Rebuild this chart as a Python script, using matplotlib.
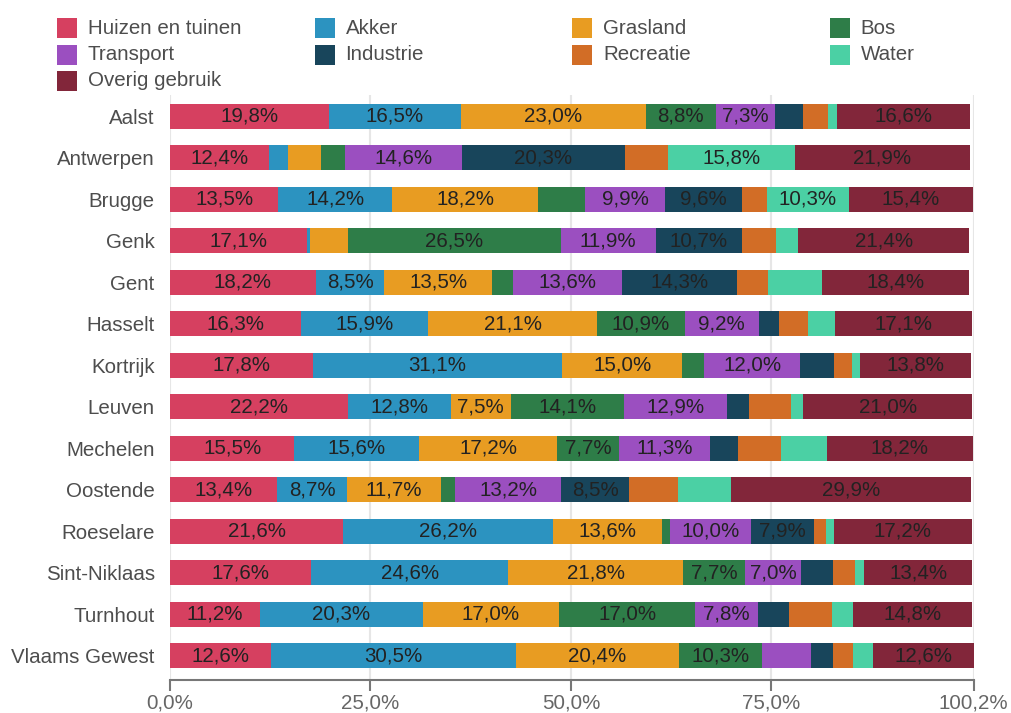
import numpy as np
import matplotlib
matplotlib.use('Agg')
import matplotlib.pyplot as plt
from matplotlib.patches import Rectangle

plt.rcParams['font.family'] = ['Liberation Sans', 'DejaVu Sans']

# ── Data (percent of area per land-use category) ──
regions = ['Aalst', 'Antwerpen', 'Brugge', 'Genk', 'Gent', 'Hasselt', 'Kortrijk',
           'Leuven', 'Mechelen', 'Oostende', 'Roeselare', 'Sint-Niklaas',
           'Turnhout', 'Vlaams Gewest']
categories = ['Huizen en tuinen', 'Akker', 'Grasland', 'Bos', 'Transport',
              'Industrie', 'Recreatie', 'Water', 'Overig gebruik']

huizen    = [19.8, 12.4, 13.5, 17.1, 18.2, 16.3, 17.8, 22.2, 15.5, 13.4, 21.6, 17.6, 11.2, 12.6]
akker     = [16.5, 2.3, 14.2, 0.4, 8.5, 15.9, 31.1, 12.8, 15.6, 8.7, 26.2, 24.6, 20.3, 30.5]
grasland  = [23.0, 4.1, 18.2, 4.7, 13.5, 21.1, 15.0, 7.5, 17.2, 11.7, 13.6, 21.8, 17.0, 20.4]
bos       = [8.8, 3.0, 5.9, 26.5, 2.6, 10.9, 2.7, 14.1, 7.7, 1.8, 1.0, 7.7, 17.0, 10.3]
transport = [7.3, 14.6, 9.9, 11.9, 13.6, 9.2, 12.0, 12.9, 11.3, 13.2, 10.0, 7.0, 7.8, 6.1]
industrie = [3.5, 20.3, 9.6, 10.7, 14.3, 2.5, 4.2, 2.7, 3.5, 8.5, 7.9, 4.0, 3.9, 2.8]
recreatie = [3.2, 5.4, 3.1, 4.3, 3.9, 3.7, 2.3, 5.2, 5.4, 6.1, 1.5, 2.7, 5.4, 2.5]
water     = [1.1, 15.8, 10.3, 2.7, 6.7, 3.3, 1.0, 1.6, 5.7, 6.6, 1.0, 1.2, 2.6, 2.5]
overig    = [16.6, 21.9, 15.4, 21.4, 18.4, 17.1, 13.8, 21.0, 18.2, 29.9, 17.2, 13.4, 14.8, 12.6]

colors = ['#D64060', '#2C93C0', '#E89C22', '#2E7D48', '#9B4FC0',
          '#18455B', '#D26D26', '#4BD0A4', '#82263A']

x_ticks = [0, 25, 50, 75, 100.2]
x_ticklabels = ['0,0%', '25,0%', '50,0%', '75,0%', '100,2%']
label_min = 7.0

W, H = 1011, 713
fig = plt.figure(figsize=(W / 100, H / 100), dpi=100)
ax = fig.add_axes([170 / W, 1 - 680 / H, 803.5 / W, 585 / H])

series = [huizen, akker, grasland, bos, transport, industrie, recreatie, water, overig]
y = np.arange(len(regions))
left = np.zeros(len(regions))
for name, vals, col in zip(categories, series, colors):
    vals = np.array(vals)
    ax.barh(y, vals, left=left, height=0.6, color=col, label=name,
            edgecolor='none', zorder=2)
    for yi, (l, v) in enumerate(zip(left, vals)):
        if v >= label_min:
            ax.text(l + v / 2, yi, f'{v:.1f}%'.replace('.', ','),
                    ha='center', va='center', fontsize=14.8, color='#222222', zorder=3)
    left += vals

ax.set_xlim(0, 100.2)
ax.set_ylim(13.58, -0.51)
ax.set_yticks(y)
ax.set_yticklabels(regions, fontsize=14.8, color='#4d4d4d')
ax.tick_params(axis='y', length=0, pad=11)
ax.set_xticks(x_ticks)
ax.set_xticklabels(x_ticklabels, fontsize=14.8, color='#666666')
ax.tick_params(axis='x', length=8, width=1.5, color='#777777', pad=2)
ax.grid(axis='x', color='#e6e6e6', linewidth=1.5, zorder=0)
ax.set_axisbelow(True)
for s in ['top', 'right', 'left']:
    ax.spines[s].set_visible(False)
ax.spines['bottom'].set_color('#777777')
ax.spines['bottom'].set_linewidth(1.5)

# ── Legend laid out as a 4-column grid, row-major ──
for i, (name, col) in enumerate(zip(categories, colors)):
    c, r = i % 4, i // 4
    px = 57 + c * 257.5
    py = 28 + r * 26.5
    fig.add_artist(Rectangle((px / W, 1 - (py + 10) / H), 20 / W, 20 / H,
                             transform=fig.transFigure, facecolor=col, edgecolor='none'))
    fig.text((px + 31) / W, 1 - py / H, name, ha='left', va='center',
             fontsize=14.8, color='#4d4d4d')

fig.savefig('out.png', dpi=100)
